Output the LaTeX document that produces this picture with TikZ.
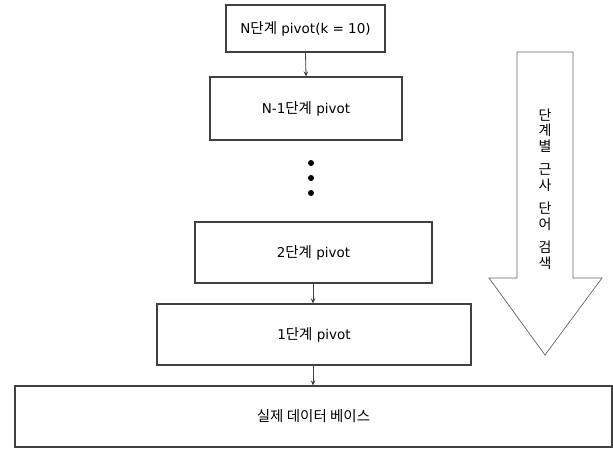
\documentclass[tikz,border=0pt]{standalone}
\usepackage{fontspec}
\setmainfont{DejaVu Sans}
\newfontfamily\kr{Noto Sans CJK KR}
\usetikzlibrary{arrows.meta}
\begin{document}
\begin{tikzpicture}[x=1pt,y=-1pt,
  box/.style={draw=black!75,line width=1.1pt,fill=white,font=\fontsize{13.5}{16}\selectfont},
  conn/.style={draw=black!75,line width=0.8pt,-{Stealth[length=5pt,width=4.5pt]}},
  dot/.style={circle,fill=black,inner sep=0pt,minimum size=6pt}]
\useasboundingbox (0,0) rectangle (613,448);
\node[box,minimum width=159pt,minimum height=47pt] (n) at (305.5,28.5) {N{\kr\fontsize{14.5}{16}\selectfont 단계} pivot(k = 10)};
\node[box,minimum width=192pt,minimum height=63pt] (n1) at (306,108.5) {N-1{\kr\fontsize{14.5}{16}\selectfont 단계} pivot};
\node[dot] (d1) at (311,163) {};
\node[dot] (d2) at (311,178) {};
\node[dot] (d3) at (311,193) {};
\node[box,minimum width=237pt,minimum height=61pt] (s2) at (313.5,252.5) {2{\kr\fontsize{14.5}{16}\selectfont 단계} pivot};
\node[box,minimum width=314pt,minimum height=61pt] (s1) at (314,334.5) {1{\kr\fontsize{14.5}{16}\selectfont 단계} pivot};
\node[box,minimum width=597pt,minimum height=61pt] (db) at (313.5,416.5) {\kr\fontsize{14.5}{16}\selectfont 실제 데이터 베이스};
\draw[conn] (n.south) -- (n1.north);
\draw[conn] (s2.south -| 313,0) -- (s1.north -| 313,0);
\draw[conn] (s1.south -| 313,0) -- (db.north -| 313,0);
\draw[draw=black!60,line width=0.7pt,fill=white] (517,52) -- (573,52) -- (573,278) -- (602,278) -- (545,355) -- (489,278) -- (517,278) -- cycle;
\node[font=\kr\fontsize{14}{15.5}\selectfont,align=center,inner sep=0pt] (lbl) at (545,189) {단\\계\\별\\[8pt]근\\사\\[8pt]단\\어\\[8pt]검\\색};
\end{tikzpicture}
\end{document}
